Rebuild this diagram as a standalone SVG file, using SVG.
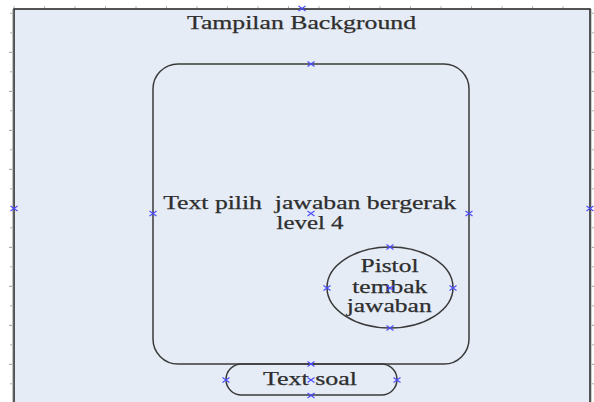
<svg xmlns="http://www.w3.org/2000/svg" xmlns:xlink="http://www.w3.org/1999/xlink" width="594" height="402" viewBox="0 0 594 402">
  <style>
    .frame { fill: #e5ecf6; stroke: #2b2b2b; stroke-width: 1.6; }
    .shape { fill: none; stroke: #3a3a3a; stroke-width: 1.5; }
    .label { font-family: "Liberation Serif", "Times New Roman", serif; font-size: 18px; fill: #2e2e2e; stroke: #2e2e2e; stroke-width: 0.25; text-anchor: middle; }
    .tick { stroke: #b0b0b0; stroke-width: 1; }
    .tick-long { stroke: #9a9a9a; stroke-width: 1; }
    .pin { stroke: #4a4aff; stroke-width: 1.1; fill: none; }
  </style>
  <defs>
    <!-- small cross used for anchor points -->
    <path id="pin" class="pin" d="M-3.5,-2.5 L3.5,2.5 M-3.5,2.5 L3.5,-2.5"/>
  </defs>

  <rect width="594" height="402" fill="#ffffff"/>

  <!-- ruler ticks -->
  <g id="rulers">
    <g class="tick">
      <line x1="14" y1="6" x2="14" y2="8"/><line x1="44.5" y1="6" x2="44.5" y2="8"/>
      <line x1="75" y1="6" x2="75" y2="8"/><line x1="105.5" y1="6" x2="105.5" y2="8"/>
      <line x1="136" y1="6" x2="136" y2="8"/><line x1="166.5" y1="6" x2="166.5" y2="8"/>
      <line x1="197" y1="6" x2="197" y2="8"/><line x1="227.5" y1="6" x2="227.5" y2="8"/>
      <line x1="258" y1="6" x2="258" y2="8"/><line x1="288.5" y1="6" x2="288.5" y2="8"/>
      <line x1="319" y1="6" x2="319" y2="8"/><line x1="349.5" y1="6" x2="349.5" y2="8"/>
      <line x1="380" y1="6" x2="380" y2="8"/><line x1="410.5" y1="6" x2="410.5" y2="8"/>
      <line x1="441" y1="6" x2="441" y2="8"/><line x1="471.5" y1="6" x2="471.5" y2="8"/>
      <line x1="502" y1="6" x2="502" y2="8"/><line x1="532.5" y1="6" x2="532.5" y2="8"/>
      <line x1="563" y1="6" x2="563" y2="8"/>
    </g>
    <g class="tick">
      <line x1="10" y1="13.3" x2="12" y2="13.3"/><line x1="10" y1="32.8" x2="12" y2="32.8"/>
      <line x1="10" y1="71.8" x2="12" y2="71.8"/><line x1="10" y1="110.8" x2="12" y2="110.8"/>
      <line x1="10" y1="149.8" x2="12" y2="149.8"/><line x1="10" y1="188.8" x2="12" y2="188.8"/>
      <line x1="10" y1="227.8" x2="12" y2="227.8"/><line x1="10" y1="266.8" x2="12" y2="266.8"/>
      <line x1="10" y1="305.8" x2="12" y2="305.8"/><line x1="10" y1="344.8" x2="12" y2="344.8"/>
      <line x1="10" y1="383.8" x2="12" y2="383.8"/>
      <line x1="592" y1="13.3" x2="594" y2="13.3"/><line x1="592" y1="32.8" x2="594" y2="32.8"/>
      <line x1="592" y1="71.8" x2="594" y2="71.8"/><line x1="592" y1="110.8" x2="594" y2="110.8"/>
      <line x1="592" y1="149.8" x2="594" y2="149.8"/><line x1="592" y1="188.8" x2="594" y2="188.8"/>
      <line x1="592" y1="227.8" x2="594" y2="227.8"/><line x1="592" y1="266.8" x2="594" y2="266.8"/>
      <line x1="592" y1="305.8" x2="594" y2="305.8"/><line x1="592" y1="344.8" x2="594" y2="344.8"/>
      <line x1="592" y1="383.8" x2="594" y2="383.8"/>
    </g>
    <g class="tick-long">
      <line x1="9" y1="52.3" x2="12" y2="52.3"/><line x1="9" y1="91.3" x2="12" y2="91.3"/>
      <line x1="9" y1="130.3" x2="12" y2="130.3"/><line x1="9" y1="169.3" x2="12" y2="169.3"/>
      <line x1="9" y1="247.3" x2="12" y2="247.3"/><line x1="9" y1="286.3" x2="12" y2="286.3"/>
      <line x1="9" y1="325.3" x2="12" y2="325.3"/><line x1="9" y1="364.3" x2="12" y2="364.3"/>
      <line x1="592" y1="52.3" x2="595" y2="52.3"/><line x1="592" y1="91.3" x2="595" y2="91.3"/>
      <line x1="592" y1="130.3" x2="595" y2="130.3"/><line x1="592" y1="169.3" x2="595" y2="169.3"/>
      <line x1="592" y1="247.3" x2="595" y2="247.3"/><line x1="592" y1="286.3" x2="595" y2="286.3"/>
      <line x1="592" y1="325.3" x2="595" y2="325.3"/><line x1="592" y1="364.3" x2="595" y2="364.3"/>
    </g>
  </g>

  <!-- background screen -->
  <g id="background">
    <rect class="frame" x="14" y="9" width="576" height="400"/>
    <line x1="13.2" y1="9" x2="13.2" y2="402" stroke="#666" stroke-width="1.2"/>
    <line x1="590.8" y1="9" x2="590.8" y2="402" stroke="#555" stroke-width="1"/>
    <text class="label" x="301.5" y="29.3" textLength="229" lengthAdjust="spacingAndGlyphs">Tampilan Background</text>
  </g>

  <!-- answer area -->
  <g id="answer-panel">
    <rect class="shape" x="153" y="64" width="316" height="300" rx="25" ry="25"/>
    <text class="label" x="309.7" y="209.3" textLength="293" lengthAdjust="spacingAndGlyphs" xml:space="preserve">Text pilih  jawaban bergerak</text>
    <text class="label" x="310" y="229" textLength="67" lengthAdjust="spacingAndGlyphs">level 4</text>
  </g>

  <!-- gun -->
  <g id="pistol">
    <ellipse class="shape" cx="390" cy="287.5" rx="63" ry="40.5"/>
    <text class="label" x="389.5" y="272.3" textLength="58" lengthAdjust="spacingAndGlyphs">Pistol</text>
    <text class="label" x="389.8" y="293.3" textLength="75" lengthAdjust="spacingAndGlyphs">tembak</text>
    <text class="label" x="389.2" y="311.7" textLength="85" lengthAdjust="spacingAndGlyphs">jawaban</text>
  </g>

  <!-- question bar -->
  <g id="text-soal">
    <rect class="shape" x="226" y="364" width="171" height="31" rx="15.5" ry="15.5"/>
    <text class="label" x="310" y="385" textLength="94" lengthAdjust="spacingAndGlyphs">Text soal</text>
  </g>

  <g id="connectors"/>

  <!-- anchor points -->
  <g id="anchors">
    <use xlink:href="#pin" x="302" y="8.5"/>
    <use xlink:href="#pin" x="311" y="64"/>
    <use xlink:href="#pin" x="14" y="208.5"/>
    <use xlink:href="#pin" x="590" y="208.5"/>
    <use xlink:href="#pin" x="153" y="213.5"/>
    <use xlink:href="#pin" x="311" y="213.5"/>
    <use xlink:href="#pin" x="469" y="213.5"/>
    <use xlink:href="#pin" x="390" y="247"/>
    <use xlink:href="#pin" x="327" y="288"/>
    <use xlink:href="#pin" x="390" y="288"/>
    <use xlink:href="#pin" x="453" y="288"/>
    <use xlink:href="#pin" x="390" y="328"/>
    <use xlink:href="#pin" x="311" y="364"/>
    <use xlink:href="#pin" x="226" y="380"/>
    <use xlink:href="#pin" x="311" y="380"/>
    <use xlink:href="#pin" x="397" y="380"/>
    <use xlink:href="#pin" x="311" y="395.5"/>
  </g>
</svg>
